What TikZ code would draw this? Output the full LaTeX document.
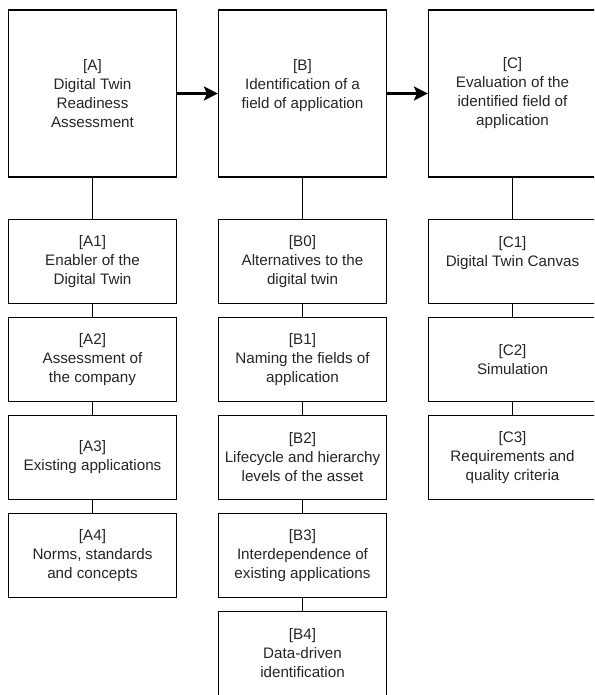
\documentclass[tikz,border=0pt]{standalone}
\usepackage{fontspec}
\setmainfont{Liberation Sans}
\usetikzlibrary{arrows.meta}
\begin{document}
\begin{tikzpicture}[x=1pt,y=-1pt,
  box/.style={draw=black,line width=1.2pt,fill=white,inner sep=0pt,align=center,
    font=\fontsize{15.2}{19}\selectfont,text=black!85},
  topbox/.style={box,minimum width=168pt,minimum height=167pt},
  subbox/.style={box,minimum width=168pt,minimum height=84pt},
  link/.style={draw=black,line width=1.2pt},
  arr/.style={draw=black,line width=2.2pt,-{Stealth[length=14pt,width=14pt,inset=3pt]}}]
\useasboundingbox (0,0) rectangle (594,695);
\clip (0,0) rectangle (594,695);
% top boxes
\node[topbox] (A) at (92.5,93.5) {[A]\\Digital Twin\\Readiness\\Assessment};
\node[topbox] (B) at (302.5,93.5) {[B]\\Identification of a\\field of application\\\mbox{}};
\node[topbox] (C) at (512.5,93.5) {[C]\\Evaluation of the\\identified field of\\application};
% A column
\node[subbox] (A1) at (92.5,261.3) {[A1]\\Enabler of the\\Digital Twin};
\node[subbox] (A2) at (92.5,359.3) {[A2]\\Assessment of\\the company};
\node[subbox] (A3) at (92.5,457.3) {[A3]\\Existing applications};
\node[subbox] (A4) at (92.5,555.3) {[A4]\\Norms, standards\\and concepts};
% B column
\node[subbox] (B0) at (302.5,261.3) {[B0]\\Alternatives to the\\digital twin};
\node[subbox] (B1) at (302.5,359.3) {[B1]\\Naming the fields of\\application};
\node[subbox] (B2) at (302.5,457.3) {[B2]\\Lifecycle and hierarchy\\levels of the asset};
\node[subbox] (B3) at (302.5,555.3) {[B3]\\Interdependence of\\existing applications};
\node[subbox] (B4) at (302.5,653.3) {[B4]\\Data-driven\\identification};
% C column
\node[subbox] (C1) at (512.5,261.3) {[C1]\\Digital Twin Canvas\\\mbox{}};
\node[subbox] (C2) at (512.5,359.3) {[C2]\\Simulation};
\node[subbox] (C3) at (512.5,457.3) {[C3]\\Requirements and\\quality criteria};
% connectors
\draw[link] (A) -- (A1);
\draw[link] (A1) -- (A2);
\draw[link] (A2) -- (A3);
\draw[link] (A3) -- (A4);
\draw[link] (B) -- (B0);
\draw[link] (B0) -- (B1);
\draw[link] (B1) -- (B2);
\draw[link] (B2) -- (B3);
\draw[link] (B3) -- (B4);
\draw[link] (C) -- (C1);
\draw[link] (C1) -- (C2);
\draw[link] (C2) -- (C3);
\draw[arr] (A) -- (B);
\draw[arr] (B) -- (C);
\end{tikzpicture}
\end{document}
